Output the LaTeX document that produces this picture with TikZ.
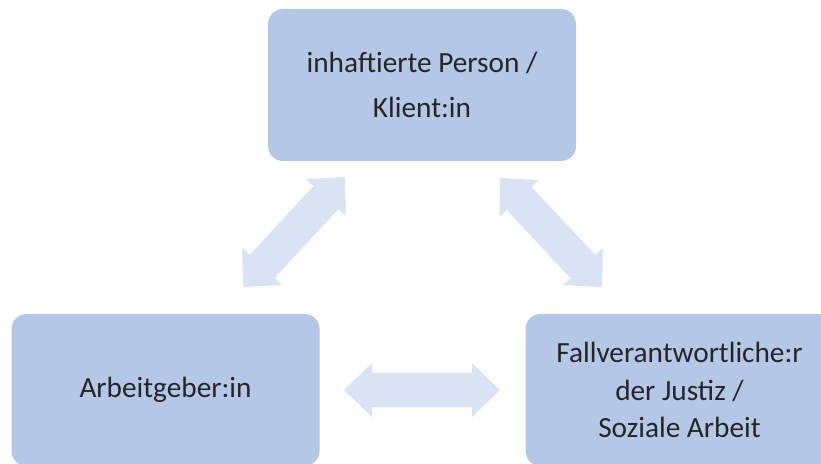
\documentclass[tikz,border=0pt]{standalone}
\usepackage{fontspec}
\setmainfont{Carlito}
\usetikzlibrary{calc}
\definecolor{boxblue}{HTML}{B4C7E7}
\definecolor{arrowblue}{HTML}{DAE3F3}
\definecolor{txt}{HTML}{262626}
\tikzset{
  rolebox/.style={fill=boxblue, draw=none, rounded corners=15pt, minimum width=308pt, minimum height=152pt, inner sep=0pt, align=center, text=txt},
  arrowfill/.style={fill=arrowblue, draw=none}
}
\newcommand\blockarrow[3]{%
  \begin{scope}[shift={#1}, rotate=#2]
    \fill[arrowfill] (0,0) -- (28,27) -- (28,17) -- ({#3-28},17) -- ({#3-28},27) -- (#3,0)
      -- ({#3-28},-27) -- ({#3-28},-17) -- (28,-17) -- (28,-27) -- cycle;
  \end{scope}}
\begin{document}
\begin{tikzpicture}[x=1pt,y=1pt]
\useasboundingbox (0,0) rectangle (821,463);
\node[rolebox, font=\fontsize{29.3}{45}\selectfont] (klient) at (422,378) {inhaftierte Person /\\Klient:in};
\node[rolebox, font=\fontsize{29.3}{37.5}\selectfont] (arbeit) at (165.5,73) {Arbeitgeber:in};
\node[rolebox, font=\fontsize{29.3}{37.5}\selectfont] (justiz) at (679.5,73) {Fallverantwortliche:r\\der Justiz /\\Soziale Arbeit};
\coordinate (h1) at (344,73);
\coordinate (l1) at (243,176);
\coordinate (r1) at (500,285);
\blockarrow{(h1)}{0}{156}
\blockarrow{(l1)}{47.15}{150}
\blockarrow{(r1)}{-46.9}{149.4}
\end{tikzpicture}
\end{document}
